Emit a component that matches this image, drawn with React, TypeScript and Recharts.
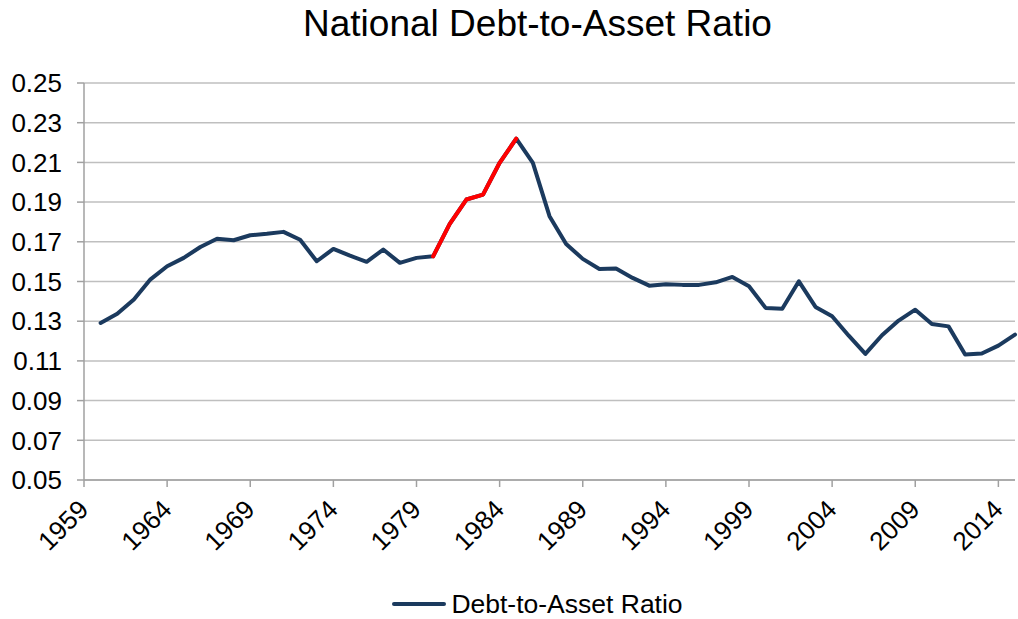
import React from "react"
import { LineChart, Line, XAxis, YAxis, CartesianGrid, Legend } from "recharts"

const years = [
  1960, 1961, 1962, 1963, 1964, 1965, 1966, 1967, 1968, 1969,
  1970, 1971, 1972, 1973, 1974, 1975, 1976, 1977, 1978, 1979,
  1980, 1981, 1982, 1983, 1984, 1985, 1986, 1987, 1988, 1989,
  1990, 1991, 1992, 1993, 1994, 1995, 1996, 1997, 1998, 1999,
  2000, 2001, 2002, 2003, 2004, 2005, 2006, 2007, 2008, 2009,
  2010, 2011, 2012, 2013, 2014, 2015,
]

const ratio = [
  0.1291, 0.1337, 0.1409, 0.1511, 0.1577, 0.1619, 0.1674, 0.1715, 0.1708, 0.1733,
  0.174, 0.175, 0.171, 0.1602, 0.1664, 0.163, 0.1599, 0.1661, 0.1594, 0.1619,
  0.1627, 0.179, 0.1913, 0.1938, 0.2098, 0.222, 0.2098, 0.1829, 0.1689, 0.1614,
  0.1563, 0.1565, 0.1518, 0.1479, 0.1486, 0.1483, 0.1483, 0.1496, 0.1523, 0.1476,
  0.1367, 0.1363, 0.1501, 0.1372, 0.1325, 0.1227, 0.1135, 0.1229, 0.1303, 0.1358,
  0.1286, 0.1274, 0.1132, 0.1137, 0.1177, 0.1232,
]

// red stretch of the line
const highlightFrom = 1980
const highlightTo = 1985

const xTicks = [1959, 1964, 1969, 1974, 1979, 1984, 1989, 1994, 1999, 2004, 2009, 2014]
const yTicks = [0.05, 0.07, 0.09, 0.11, 0.13, 0.15, 0.17, 0.19, 0.21, 0.23, 0.25]

const data = years.map((year, i) => ({
  year,
  ratio: ratio[i],
  highlight: year >= highlightFrom && year <= highlightTo ? ratio[i] : null,
}))

const NAVY = "#1B3A5E"
const AXIS = "#A0A0A0"

function YearTick(props: any) {
  const { x, y, payload } = props
  return (
    <text
      x={x + 6}
      y={y + 22}
      transform={`rotate(-45, ${x + 6}, ${y + 22})`}
      textAnchor="end"
      fontSize={26}
      fill="#000"
    >
      {payload.value}
    </text>
  )
}

function LegendContent() {
  return (
    <div
      style={{
        height: 49,
        display: "flex",
        justifyContent: "center",
        alignItems: "center",
        paddingLeft: 60,
        paddingTop: 19,
        boxSizing: "border-box",
      }}
    >
      <span style={{ display: "inline-block", width: 54, height: 4, borderRadius: 2, background: NAVY, marginRight: 5 }} />
      <span style={{ fontSize: 26.5, color: "#000" }}>Debt-to-Asset Ratio</span>
    </div>
  )
}

export default function App() {
  return (
    <div
      style={{
        position: "absolute",
        left: 0,
        top: 0,
        width: 1018,
        height: 619,
        background: "#fff",
        fontFamily: "'Liberation Sans', Arial, sans-serif",
      }}
    >
      <div
        style={{
          position: "absolute",
          top: 3,
          left: 0,
          width: 1075,
          textAlign: "center",
          fontSize: 37,
          color: "#000",
        }}
      >
        National Debt-to-Asset Ratio
      </div>
      <LineChart width={1018} height={619} data={data} margin={{ top: 83, right: 3, left: 0, bottom: 0 }}>
        <CartesianGrid vertical={false} stroke="#BFBFBF" strokeWidth={1.5} />
        <XAxis
          dataKey="year"
          type="number"
          domain={[1959, 2015]}
          ticks={xTicks}
          interval={0}
          height={90}
          axisLine={{ stroke: AXIS, strokeWidth: 1.5 }}
          tickLine={{ stroke: AXIS, strokeWidth: 1.5 }}
          tickSize={7}
          tick={<YearTick />}
        />
        <YAxis
          domain={[0.05, 0.25]}
          ticks={yTicks}
          interval={0}
          width={84}
          axisLine={{ stroke: AXIS, strokeWidth: 1.5 }}
          tickLine={{ stroke: AXIS, strokeWidth: 1.5 }}
          tickSize={7}
          tickMargin={15}
          tickFormatter={(v: number) => v.toFixed(2)}
          tick={{ fontSize: 26, fill: "#000" }}
        />
        <Legend verticalAlign="bottom" height={49} content={<LegendContent />} />
        <Line
          type="linear"
          dataKey="ratio"
          stroke={NAVY}
          strokeWidth={4}
          strokeLinejoin="round"
          strokeLinecap="round"
          dot={false}
          isAnimationActive={false}
        />
        <Line
          type="linear"
          dataKey="highlight"
          stroke="#FF0000"
          strokeWidth={4}
          strokeLinejoin="round"
          strokeLinecap="round"
          dot={false}
          legendType="none"
          connectNulls={false}
          isAnimationActive={false}
        />
      </LineChart>
    </div>
  )
}
